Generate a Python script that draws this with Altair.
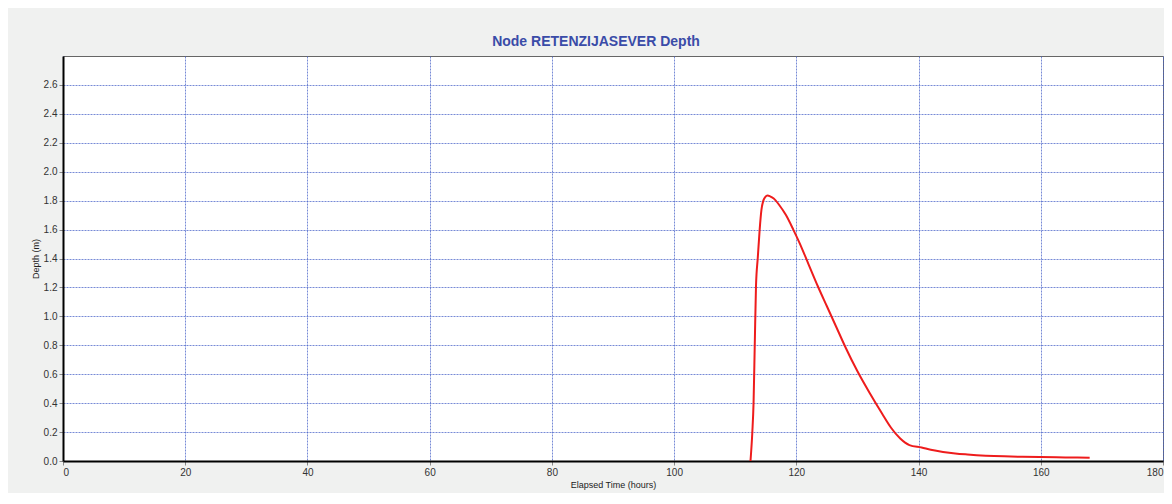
import altair as alt
import pandas as pd

hours = [112.5, 112.8, 113.0, 113.2, 113.4, 113.7, 114.0, 114.3, 114.6, 114.9, 115.3, 115.7,
         116.3, 117.2, 118.3, 119.5, 120.5, 122.0, 123.5, 125.0, 126.5, 128.0, 130.0, 132.0,
         134.0, 135.5, 137.0, 138.5, 140.5, 142.0, 144.0, 146.0, 148.0, 151.0, 154.0,
         157.0, 160.0, 164.0, 168.0]
depth = [0.0, 0.20, 0.40, 0.81, 1.21, 1.41, 1.60, 1.74, 1.80, 1.825, 1.835, 1.83,
         1.815, 1.77, 1.70, 1.60, 1.51, 1.36, 1.21, 1.07, 0.93, 0.79, 0.62, 0.47,
         0.33, 0.23, 0.155, 0.11, 0.093, 0.078, 0.063, 0.052, 0.045, 0.037, 0.032,
         0.029, 0.027, 0.025, 0.023]

x_ticks = [0, 20, 40, 60, 80, 100, 120, 140, 160, 180]
y_ticks = [0.0, 0.2, 0.4, 0.6, 0.8, 1.0, 1.2, 1.4, 1.6, 1.8, 2.0, 2.2, 2.4, 2.6]

df = pd.DataFrame({"hours": hours, "depth": depth})

axis_style = dict(
    grid=True, gridColor="#4a63c8", gridDash=[2, 1], gridOpacity=0.75,
    domainColor="#000000", domainWidth=2,
    tickColor="#888888", tickSize=4, labelPadding=2,
    labelFont="Liberation Sans", labelFontSize=10, labelColor="#333333",
    titleFont="Liberation Sans", titleFontSize=9, titleFontWeight="normal",
    titleColor="#222222", titlePadding=3,
)

chart = alt.Chart(df).mark_line(color="#ee1c1c", strokeWidth=2, interpolate="monotone").encode(
    x=alt.X("hours:Q",
            scale=alt.Scale(domain=[0, 180], nice=False, zero=False),
            axis=alt.Axis(values=x_ticks, title="Elapsed Time (hours)", format="d", **axis_style)),
    y=alt.Y("depth:Q",
            scale=alt.Scale(domain=[0, 2.8], nice=False),
            axis=alt.Axis(values=y_ticks, title="Depth (m)", format=".1f", **axis_style)),
).properties(
    width=1100,
    height=405,
    title=alt.TitleParams("Node RETENZIJASEVER Depth", font="Liberation Sans", fontSize=14,
                          fontWeight="bold", color="#3a4ca8", anchor="middle",
                          baseline="alphabetic", offset=8, dx=-17, dy=12),
    background="#f0f1f0",
    padding={"left": 55, "top": 48, "right": 1, "bottom": 32},
    autosize=alt.AutoSizeParams(type="none"),
).configure_view(
    fill="#ffffff", stroke="#666666", strokeWidth=1
)

chart.save("out.html", embed_options={"renderer": "svg", "actions": False})
